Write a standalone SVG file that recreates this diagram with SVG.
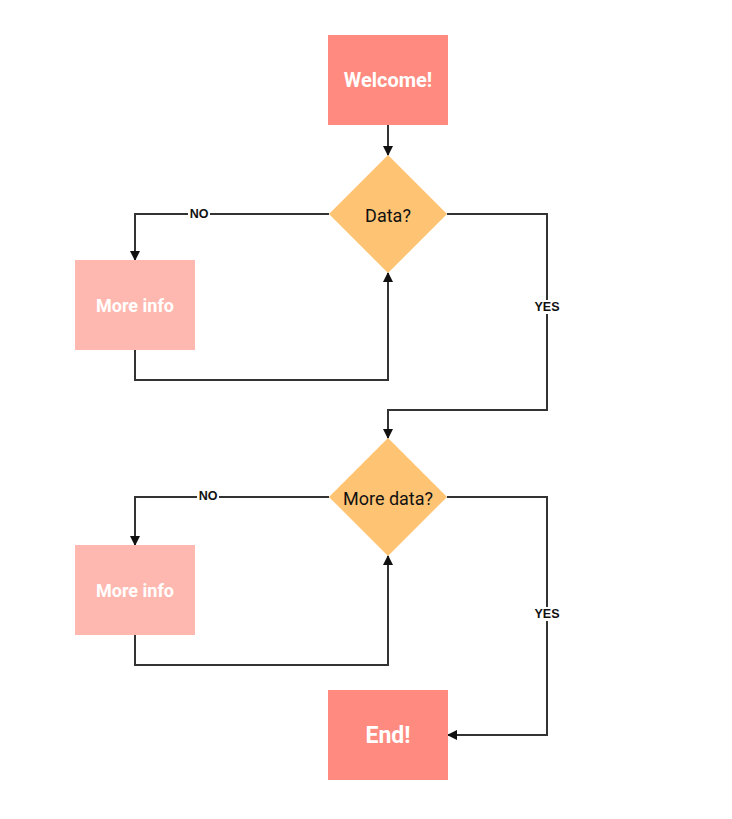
<svg xmlns="http://www.w3.org/2000/svg" width="732" height="819" viewBox="0 0 732 819">
<defs>
<style>
.term{fill:#FF8B80}
.info{fill:#FFB8B0}
.dec{fill:#FFC473}
.wt{font-family:Roboto,"Liberation Sans",sans-serif;font-weight:bold;fill:#fff;text-anchor:middle;dominant-baseline:central}
.dt{font-family:Roboto,"Liberation Sans",sans-serif;font-size:18px;fill:#111;text-anchor:middle;dominant-baseline:central}
.edge{fill:none;stroke:#333;stroke-width:2}
.lbl{font-family:"Liberation Sans",Arial,sans-serif;font-size:12.5px;font-weight:bold;fill:#111;text-anchor:middle;dominant-baseline:central}
.lblbg{fill:#fff}
</style>
<marker id="arr" viewBox="0 0 10 10" refX="9" refY="5" markerWidth="10" markerHeight="10" markerUnits="userSpaceOnUse" orient="auto">
<path d="M0,0 L10,5 L0,10 z" fill="#111"/>
</marker>
</defs>
<rect width="732" height="819" fill="#fff"/>
<g id="connectors">
<path class="edge" d="M388,125 V155" marker-end="url(#arr)"/>
<path class="edge" d="M329,214 H135 V260" marker-end="url(#arr)"/>
<path class="edge" d="M135,350 V380 H388 V273" marker-end="url(#arr)"/>
<path class="edge" d="M447,214 H547 V410 H388 V438" marker-end="url(#arr)"/>
<path class="edge" d="M329,497 H135 V545" marker-end="url(#arr)"/>
<path class="edge" d="M135,635 V665 H388 V556" marker-end="url(#arr)"/>
<path class="edge" d="M447,497 H547 V735 H448" marker-end="url(#arr)"/>
<rect class="lblbg" x="188" y="207" width="22" height="13"/>
<text class="lbl" x="199" y="213.5">NO</text>
<rect class="lblbg" x="533" y="300" width="29" height="14"/>
<text class="lbl" x="547" y="307">YES</text>
<rect class="lblbg" x="197" y="489" width="22" height="13"/>
<text class="lbl" x="208" y="495.5">NO</text>
<rect class="lblbg" x="533" y="607" width="29" height="14"/>
<text class="lbl" x="547" y="614">YES</text>
</g>
<g id="welcome">
<rect class="term" x="328" y="35" width="120" height="90"/>
<text class="wt" x="388" y="80" font-size="20">Welcome!</text>
</g>
<g id="data">
<polygon class="dec" points="388,155 447,214 388,273 329,214"/>
<text class="dt" x="388" y="215">Data?</text>
</g>
<g id="moreinfo1">
<rect class="info" x="75" y="260" width="120" height="90"/>
<text class="wt" x="135" y="305" font-size="18">More info</text>
</g>
<g id="moredata">
<polygon class="dec" points="388,438 447,497 388,556 329,497"/>
<text class="dt" x="388" y="498">More data?</text>
</g>
<g id="moreinfo2">
<rect class="info" x="75" y="545" width="120" height="90"/>
<text class="wt" x="135" y="590" font-size="18">More info</text>
</g>
<g id="end">
<rect class="term" x="328" y="690" width="120" height="90"/>
<text class="wt" x="388" y="735" font-size="23">End!</text>
</g>
</svg>
